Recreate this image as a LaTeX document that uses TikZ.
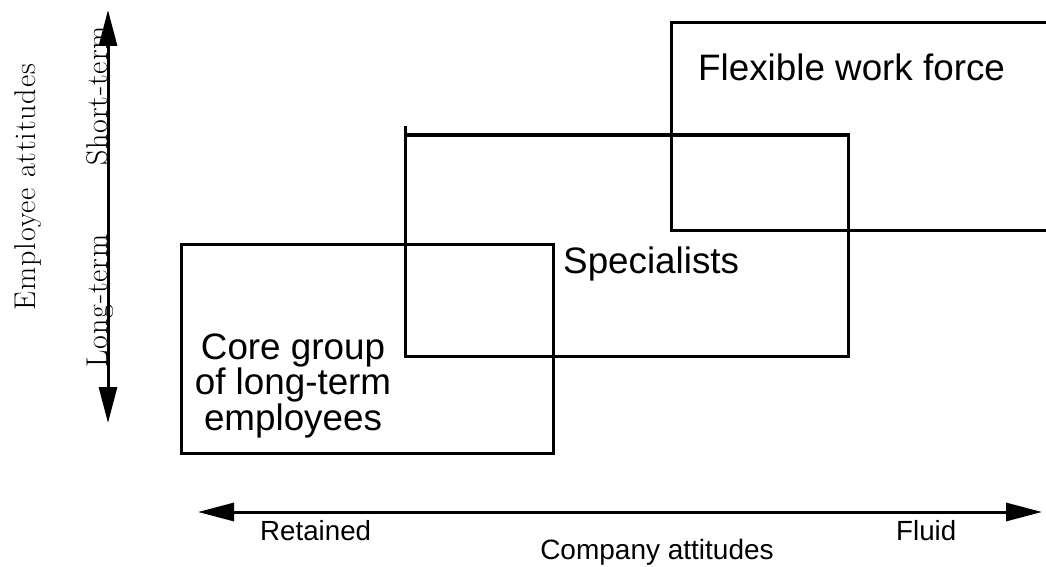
\documentclass[tikz,border=0pt]{standalone}
\usepackage{fontspec}
\setmainfont{Liberation Sans}
\newfontfamily\serifaxis{Latin Modern Roman}[LetterSpace=3]
\usetikzlibrary{arrows.meta}
\begin{document}
\begin{tikzpicture}[x=1pt,y=-1pt,
  box/.style={draw, line width=3pt, inner sep=0pt, outer sep=0pt, anchor=north west},
  bigtext/.style={font=\fontsize{36.8}{33.5}\selectfont, inner sep=0pt},
  smalltext/.style={font=\fontsize{27.7}{30}\selectfont, inner sep=0pt},
  axistext/.style={font=\serifaxis\fontsize{30}{32}\selectfont, inner sep=0pt, rotate=90, anchor=base},
  axisline/.style={line width=3pt, {Triangle[length=36pt,width=18pt]}-{Triangle[length=36pt,width=18pt]}}
]
\useasboundingbox (0,0) rectangle (1046,567);
\clip (0,0) rectangle (1046,567);

% boxes
\node[box, minimum width=372pt, minimum height=209pt] (core) at (181,244) {};
\node[box, minimum width=443pt, minimum height=221pt] (spec) at (405,135) {};
\node[box, minimum width=389pt, minimum height=207pt] (flex) at (671,23) {};
\coordinate (specstub) at (405,126);
\draw[line width=3pt] (spec.north west) -- (specstub);

% box texts
\node[bigtext, anchor=base west] (flextext) at (698,81) {Flexible work force};
\node[bigtext, anchor=base west] (spectext) at (563,273) {Specialists};
\node[bigtext, anchor=base, align=center] (coretext) at (293,430) {Core group\\of long-term\\employees};

% vertical axis
\coordinate (vtop) at (108,10);
\coordinate (vbot) at (108,423);
\draw[axisline] (vbot) -- (vtop);
\node[axistext] (shortterm) at (107,96) {Short-term};
\node[axistext] (longterm) at (107,301) {Long-term};
\node[axistext] (empatt) at (35,187) {Employee attitudes};

% horizontal axis
\coordinate (hleft) at (198,512);
\coordinate (hright) at (1042,512);
\draw[axisline] (hleft) -- (hright);
\node[smalltext, anchor=base west] (retained) at (260,540) {Retained};
\node[smalltext, anchor=base west] (fluid) at (896,540) {Fluid};
\node[font=\fontsize{28}{30}\selectfont, inner sep=0pt, anchor=base] (compatt) at (657,559) {Company attitudes};
\end{tikzpicture}
\end{document}
